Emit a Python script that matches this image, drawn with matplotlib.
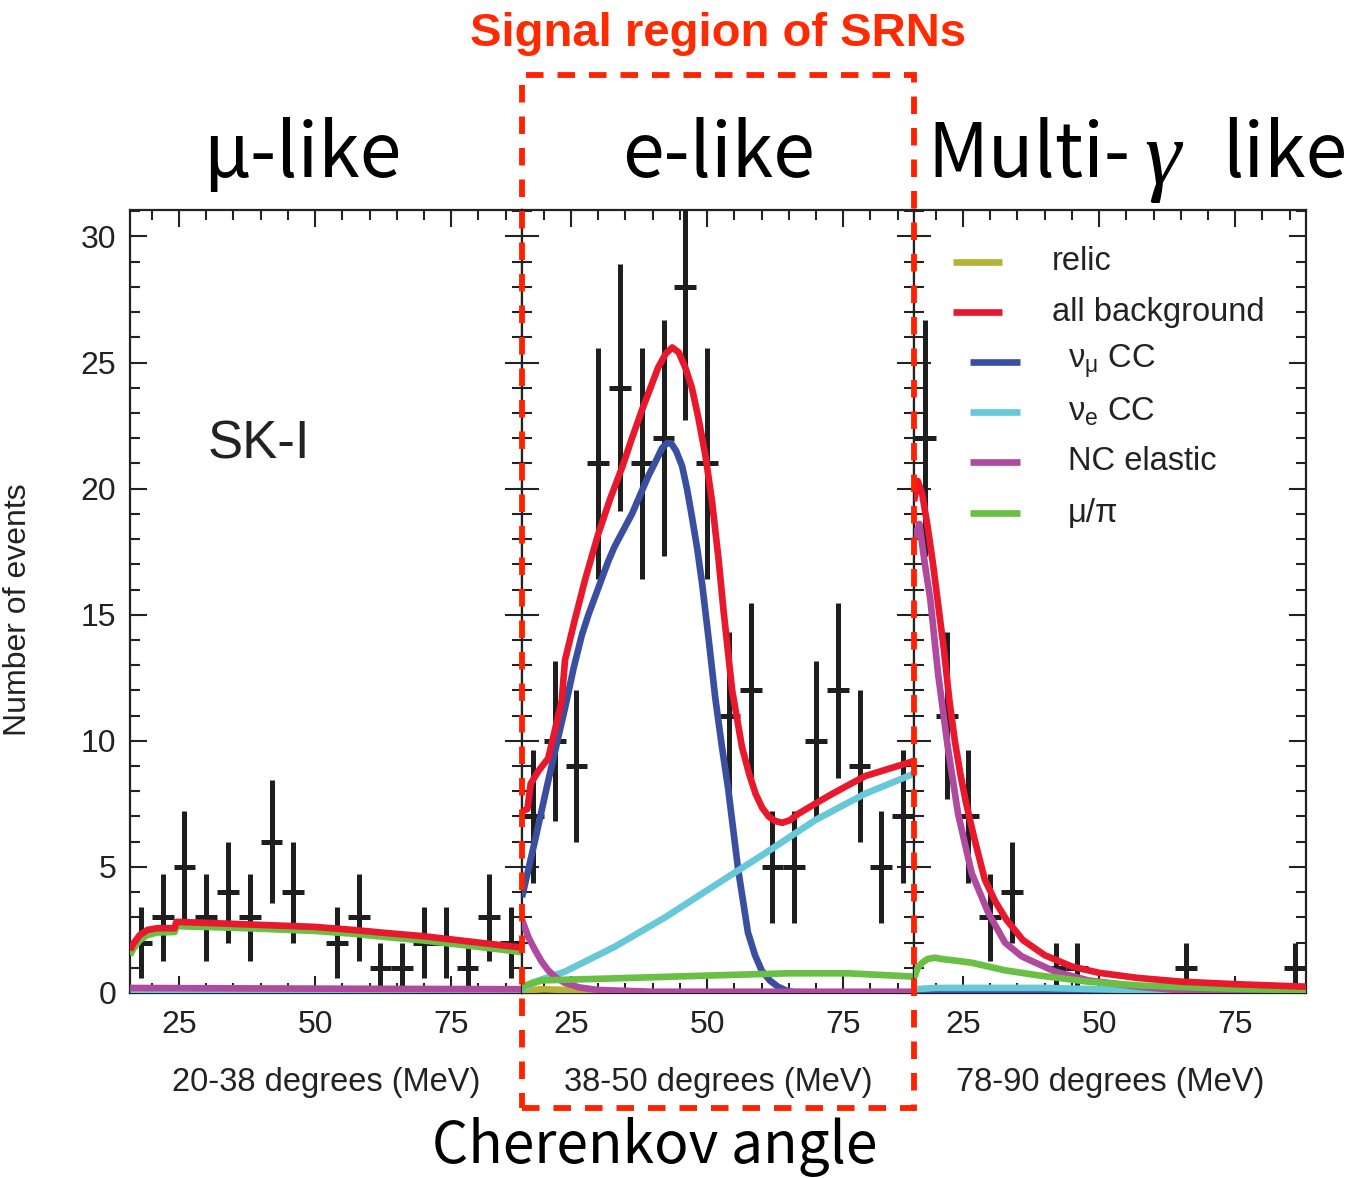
import numpy as np
import matplotlib.pyplot as plt
from matplotlib.patches import Rectangle
from matplotlib.ticker import MultipleLocator

plt.rcParams['font.family'] = ['Liberation Sans', 'DejaVu Sans']
plt.rcParams['mathtext.fontset'] = 'custom'
plt.rcParams['mathtext.rm'] = 'Liberation Sans'
plt.rcParams['mathtext.it'] = 'Liberation Serif:italic'

# observed events per 4 MeV bin
bin_centers = [18, 22, 26, 30, 34, 38, 42, 46, 50, 54, 58, 62, 66, 70, 74, 78, 82, 86]
mu_counts = [2, 3, 5, 3, 4, 3, 6, 4, 0, 2, 3, 1, 1, 2, 2, 1, 3, 2]
e_counts = [7, 10, 9, 21, 24, 21, 22, 28, 21, 11, 12, 5, 5, 10, 12, 9, 5, 7]
gamma_counts = [22, 11, 7, 3, 4, 0, 1, 1, 0, 0, 0, 0, 1, 0, 0, 0, 0, 1]

# mu-like region (20-38 degrees)
mu_bg_E = [16, 16.6, 17.8, 19.2, 21, 24.2, 24.5, 30, 40, 50, 57, 63, 70, 76, 82, 88]
mu_bg = [1.7, 1.95, 2.3, 2.5, 2.57, 2.57, 2.82, 2.78, 2.7, 2.62, 2.5, 2.38, 2.25, 2.1, 1.95, 1.8]
mu_mupi = [1.5, 1.75, 2.1, 2.3, 2.4, 2.42, 2.65, 2.62, 2.55, 2.46, 2.35, 2.22, 2.08, 1.93, 1.78, 1.62]
mu_nc_E = [16, 40, 70, 88]
mu_nc = [0.2, 0.18, 0.16, 0.15]
mu_small_E = [16, 88]
mu_small = [0.03, 0.03]

# e-like region (38-50 degrees)
e_bg_E = [16, 17, 17.6, 19, 20.8, 21.8, 23.3, 23.9, 25.7, 27.6, 30, 32.2, 34.4, 36.2, 38, 39.6,
          41, 42.4, 43.6, 44.8, 46, 47.2, 48.4, 49.7, 50.9, 52.1, 53, 54.6, 56.4, 57.7, 58.9,
          60.1, 61.3, 62.5, 63.8, 65.2, 66.7, 69.8, 73, 76, 79, 83.5, 88]
e_bg = [7.2, 7.3, 8.3, 8.8, 9.3, 10.2, 11.6, 13.2, 14.8, 16.4, 18.2, 19.6, 20.85, 22.0, 23.1, 24.0,
        24.8, 25.35, 25.6, 25.4, 24.8, 24.0, 22.8, 21.3, 19.5, 17.2, 15.2, 12.0, 9.76, 8.7, 7.9,
        7.35, 7.0, 6.82, 6.75, 6.85, 7.1, 7.5, 7.9, 8.25, 8.6, 8.9, 9.2]
e_numu_E = [16, 18.4, 20.8, 23.9, 25.5, 27, 28.2, 29.4, 30.6, 31.8, 33, 36.2, 39.2, 40.6, 41.7,
            42.6, 43.4, 44.3, 45.4, 46.3, 47.2, 48.2, 49.1, 50.3, 51.5, 52.7, 53.9, 55.7, 57.5,
            58.8, 60, 61.5, 63, 64.5, 66, 88]
e_numu = [3.8, 6.06, 8.4, 11.3, 12.9, 14.2, 15.0, 15.7, 16.4, 17.1, 17.7, 19.0, 20.5, 21.1, 21.6,
          21.8, 21.8, 21.5, 20.9, 20.0, 18.9, 17.6, 16.2, 14.0, 11.7, 9.8, 8.05, 4.9, 2.4,
          1.5, 0.9, 0.5, 0.25, 0.1, 0.03, 0.0]
e_nue_E = [16, 17.8, 23.9, 33, 42.3, 51.5, 60.7, 69.9, 79, 88]
e_nue = [0.1, 0.4, 0.85, 1.83, 3.0, 4.28, 5.55, 6.86, 7.9, 8.7]
e_mupi_E = [16, 16.5, 19.7, 33, 51.5, 64.8, 76, 88]
e_mupi = [0.1, 0.3, 0.5, 0.58, 0.7, 0.78, 0.78, 0.65]
e_nc_E = [16, 17.2, 18.4, 19.6, 20.8, 22.3, 23.9, 26.5, 30, 40, 88]
e_nc = [2.9, 2.2, 1.7, 1.25, 0.9, 0.6, 0.4, 0.22, 0.12, 0.05, 0.05]
e_relic_E = [16, 20, 24, 28, 32]
e_relic = [0.1, 0.15, 0.12, 0.06, 0.02]

# multi-gamma-like region (78-90 degrees)
g_bg_E = [16, 16.7, 17.5, 18.5, 19.5, 20.5, 21.5, 22.5, 23.5, 24.5, 25.5, 27, 29, 31, 33, 36,
          40, 45, 50, 57, 65, 75, 88]
g_bg = [19.5, 20.3, 19.8, 18.5, 17.0, 15.3, 13.6, 11.6, 10.0, 8.7, 7.6, 6.2, 4.5, 3.6, 2.9, 2.1,
        1.5, 1.05, 0.8, 0.6, 0.45, 0.35, 0.25]
g_nc_E = [16, 17, 18, 19, 20.4, 22.2, 24.1, 26.6, 29.6, 32.7, 35.8, 41.9, 48, 57.2, 66.4, 75, 88]
g_nc = [18.0, 18.6, 17.0, 15.6, 12.7, 9.76, 7.1, 4.75, 3.2, 2.0, 1.45, 0.85, 0.5, 0.25, 0.08, 0.03, 0.02]
g_mupi_E = [16, 16.7, 17.5, 18.5, 19.9, 21, 23, 26.6, 32.7, 38.8, 48, 57.2, 69.5, 88]
g_mupi = [0.6, 1.0, 1.2, 1.35, 1.4, 1.35, 1.3, 1.2, 0.9, 0.7, 0.45, 0.3, 0.2, 0.1]
g_nue_E = [16, 20, 40, 50, 65, 88]
g_nue = [0.15, 0.2, 0.2, 0.15, 0.08, 0.05]
g_numu_E = [16, 88]
g_numu = [0.03, 0.03]

C_RELIC = '#b3b336'
C_BG = '#e8192c'
C_NUMU = '#3b4fa0'
C_NUE = '#66c8d8'
C_NC = '#b04a9e'
C_MUPI = '#6abf45'
C_DATA = '#1e1e1e'
C_TEXT = '#222222'

panels = [
    dict(counts=mu_counts, label='20-38 degrees (MeV)', curves=[
        (mu_small_E, mu_small, C_NUMU), (mu_small_E, mu_small, C_NUE),
        (mu_nc_E, mu_nc, C_NC), (mu_bg_E, mu_mupi, C_MUPI), (mu_bg_E, mu_bg, C_BG)]),
    dict(counts=e_counts, label='38-50 degrees (MeV)', curves=[
        (e_relic_E, e_relic, C_RELIC), (e_numu_E, e_numu, C_NUMU), (e_nue_E, e_nue, C_NUE),
        (e_nc_E, e_nc, C_NC), (e_mupi_E, e_mupi, C_MUPI), (e_bg_E, e_bg, C_BG)]),
    dict(counts=gamma_counts, label='78-90 degrees (MeV)', curves=[
        (g_numu_E, g_numu, C_NUMU), (g_nue_E, g_nue, C_NUE), (g_nc_E, g_nc, C_NC),
        (g_mupi_E, g_mupi, C_MUPI), (g_bg_E, g_bg, C_BG)]),
]

W, H = 1353, 1178
fig = plt.figure(figsize=(W / 100, H / 100), dpi=100)

left, bottom = 130 / W, 1 - 993 / H
pw, ph = 392 / W, 783 / H

axes = []
for i, p in enumerate(panels):
    ax = fig.add_axes([left + i * pw, bottom, pw, ph])
    axes.append(ax)
    x = np.array(bin_centers, dtype=float)
    n = np.array(p['counts'], dtype=float)
    keep = n > 0
    ax.errorbar(x[keep], n[keep], yerr=np.sqrt(n[keep]), xerr=2, fmt='none',
                ecolor=C_DATA, elinewidth=3.6, capsize=0, zorder=2)
    for cx, cy, col in p['curves']:
        ax.plot(cx, cy, color=col, lw=4.8, solid_capstyle='butt',
                solid_joinstyle='round', zorder=3)
    ax.set_xlim(16, 88)
    ax.set_ylim(0, 31.05)
    ax.xaxis.set_major_locator(MultipleLocator(25))
    ax.xaxis.set_minor_locator(MultipleLocator(5))
    ax.yaxis.set_major_locator(MultipleLocator(5))
    ax.yaxis.set_minor_locator(MultipleLocator(1))
    ax.tick_params(which='both', direction='in', top=True, right=True,
                   width=1.5, color=C_TEXT, labelsize=23, labelcolor=C_TEXT)
    ax.tick_params(axis='x', pad=12)
    ax.tick_params(axis='y', pad=10)
    ax.tick_params(which='major', length=12)
    ax.tick_params(which='minor', length=7)
    if i > 0:
        ax.tick_params(labelleft=False)
    for s in ax.spines.values():
        s.set_linewidth(1.6)
        s.set_color(C_TEXT)
    ax.set_xlabel(p['label'], fontsize=23.5, labelpad=20, color=C_TEXT)

axes[0].text(0.199, 0.70, 'SK-I', transform=axes[0].transAxes, fontsize=38,
             ha='left', va='center', color=C_TEXT)

# legend drawn by hand inside the multi-gamma panel
leg = axes[2]
legend_rows = [
    ('relic', C_RELIC, 0.099, 0.224, 0.351),
    ('all background', C_BG, 0.099, 0.224, 0.351),
    (r'$\mathrm{\nu_\mu}$ CC', C_NUMU, 0.143, 0.270, 0.392),
    (r'$\mathrm{\nu_e}$ CC', C_NUE, 0.143, 0.270, 0.392),
    ('NC elastic', C_NC, 0.143, 0.270, 0.392),
    ('μ/π', C_MUPI, 0.143, 0.270, 0.392),
]
row_y = [0.9336, 0.8697, 0.8059, 0.742, 0.6782, 0.613]
for (txt, col, x0, x1, xt), yy in zip(legend_rows, row_y):
    leg.plot([x0, x1], [yy, yy], color=col, lw=4.8, transform=leg.transAxes,
             solid_capstyle='butt', zorder=4)
    leg.text(xt, yy, txt, transform=leg.transAxes, fontsize=23.5, ha='left',
             va='center', color=C_TEXT)

fig.text(18 / W, 1 - 610 / H, 'Number of events', rotation=90, fontsize=23,
         ha='center', va='center', color=C_TEXT)

# category labels above the panels
jp = ['Noto Sans CJK JP', 'DejaVu Sans']
fig.text(302 / W, 1 - 155 / H, 'μ-like', fontsize=54, family=jp, ha='center', va='center')
fig.text(718 / W, 1 - 155 / H, 'e-like', fontsize=54, family=jp, ha='center', va='center')
fig.text(1130 / W, 1 - 155 / H, 'Multi-', fontsize=54, family=jp, ha='right', va='center')
fig.text(1164 / W, 1 - 162 / H, r'$\gamma$', fontsize=66, ha='center', va='center')
fig.text(1222 / W, 1 - 155 / H, 'like', fontsize=54, family=jp, ha='left', va='center')
fig.text(655 / W, 1 - 1163 / H, 'Cherenkov angle', fontsize=41, family=jp,
         ha='center', va='baseline')
fig.text(718 / W, 1 - 34 / H, 'Signal region of SRNs', fontsize=34, fontweight='bold',
         color='#ff2a00', ha='center', va='center')

# dashed box around the signal region
x0, x1 = 522 / W, 914 / W
y0, y1 = 1 - 1108 / H, 1 - 75 / H
fig.add_artist(Rectangle((x0, y0), x1 - x0, y1 - y0, transform=fig.transFigure,
                         fill=False, edgecolor='#ff2200', lw=4.2,
                         linestyle=(0, (3, 2.4)), zorder=10, clip_on=False))

fig.savefig('out.png', dpi=100)
